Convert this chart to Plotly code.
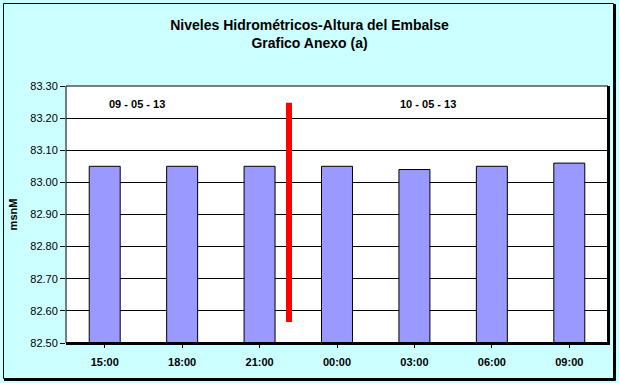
import plotly.graph_objects as go

categories = ["15:00", "18:00", "21:00", "00:00", "03:00", "06:00", "09:00"]
levels = [83.05, 83.05, 83.05, 83.05, 83.04, 83.05, 83.06]
day_labels = ["09 - 05 - 13", "10 - 05 - 13"]
day_label_pos = [0.42, 4.17]
day_label_y = 83.245
divider_x = 2.38
divider_y = [82.565, 83.248]

W, H = 619, 383
L, R, T, B = 66, 11, 86, 40
pw, ph = W - L - R, H - T - B

def px(x):
    return (x - L) / pw

def py(y):
    return (H - B - y) / ph

fig = go.Figure()
fig.add_trace(go.Bar(
    x=list(range(len(categories))), y=levels,
    marker=dict(color="#9999FF", line=dict(color="black", width=1)),
    width=0.4,
))
fig.add_trace(go.Scatter(
    x=[divider_x, divider_x], y=divider_y, mode="lines",
    line=dict(color="#FF0000", width=6),
))

for lab, xp in zip(day_labels, day_label_pos):
    fig.add_annotation(x=xp, y=day_label_y, text=lab, showarrow=False,
                       font=dict(family="Liberation Sans", size=11, color="black", weight="bold"))

shapes = [
    dict(type="rect", xref="paper", yref="paper", x0=px(3.5), x1=px(613.5), y0=py(378.5), y1=py(3.5),
         line=dict(color="black", width=1)),
    dict(type="line", xref="paper", yref="paper", x0=px(614.5), x1=px(614.5), y0=py(380.5), y1=py(4),
         line=dict(color="black", width=3)),
    dict(type="line", xref="paper", yref="paper", x0=px(4), x1=px(615.5), y0=py(379.5), y1=py(379.5),
         line=dict(color="black", width=3)),
    dict(type="rect", xref="paper", yref="paper", x0=0, x1=1, y0=0, y1=1,
         line=dict(color="black", width=1)),
    dict(type="line", xref="paper", yref="paper", x0=px(608.5), x1=px(608.5), y0=py(344.5), y1=py(86),
         line=dict(color="black", width=3)),
    dict(type="line", xref="paper", yref="paper", x0=px(66), x1=px(610), y0=py(343.5), y1=py(343.5),
         line=dict(color="black", width=3)),
]

fig.update_layout(
    width=W, height=H,
    margin=dict(l=L, r=R, t=T, b=B),
    paper_bgcolor="#CCFFFF", plot_bgcolor="white",
    showlegend=False,
    bargap=0.6,
    title=dict(text="Niveles Hidrométricos-Altura del Embalse<br>Grafico Anexo (a)",
               x=0.5, xanchor="center", y=1 - 30 / H, yanchor="top",
               font=dict(family="Liberation Sans", size=14, color="black", weight="bold")),
    font=dict(family="Liberation Sans", size=11, color="black"),
    shapes=shapes,
    xaxis=dict(
        tickmode="array", tickvals=list(range(len(categories))), ticktext=categories,
        range=[-0.5, len(categories) - 0.5],
        showgrid=False, zeroline=False,
        ticks="outside", ticklen=4, tickcolor="black", tickson="boundaries",
        ticklabelstandoff=5,
        tickfont=dict(family="Liberation Sans", size=11, color="black", weight="bold"),
        showline=False,
    ),
    yaxis=dict(
        range=[82.5, 83.3], dtick=0.1, tick0=82.5, tickformat=".2f",
        showgrid=True, gridcolor="black", gridwidth=1,
        zeroline=False, ticks="outside", ticklen=5, tickcolor="black",
        tickfont=dict(family="Liberation Sans", size=11, color="black"),
        title=dict(text="msnM", standoff=10,
                   font=dict(family="Liberation Sans", size=11, color="black", weight="bold")),
        showline=False,
    ),
)

fig.write_html("out.html")
